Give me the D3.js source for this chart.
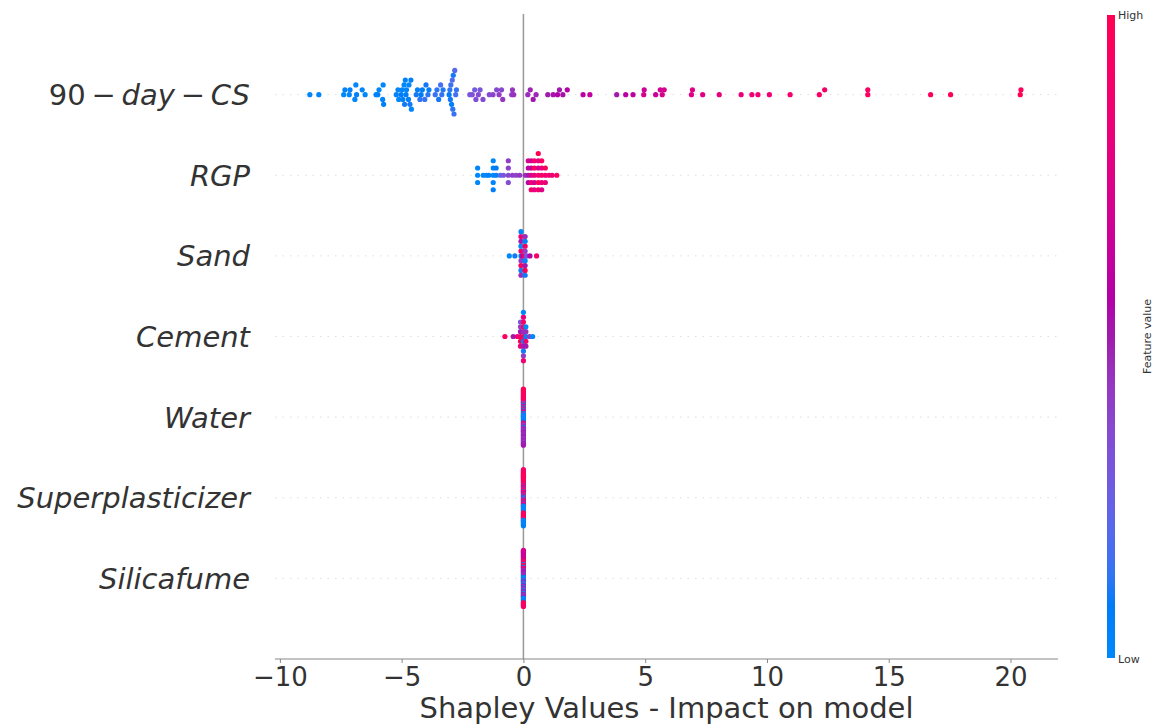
<!DOCTYPE html>
<html>
<head>
<meta charset="utf-8">
<script src="https://cdn.jsdelivr.net/npm/d3@7"></script>
<style>
  body { margin: 0; background: #fff; }
  svg { display: block; font-family: "DejaVu Sans", sans-serif; }
</style>
</head>
<body>
<svg id="shap_summary" width="1167" height="727"></svg>
<script>

// features, most important first (top row)
var features = ["90-day-CS", "RGP", "Sand", "Cement", "Water", "Superplasticizer", "Silicafume"];

// x axis ticks
var xTicks = [-10, -5, 0, 5, 10, 15, 20];

// shapley value of each sample, and its feature value (0 = low, 1 = high)
var cs90_shap = [-8.77, -8.40, -7.38, -7.33, -7.15, -7.12, -6.92, -6.88, -6.85, -6.62, -6.50,
	-6.05, -5.98, -5.93, -5.78, -5.76, -5.74, -5.22, -5.15, -5.12,
	-5.02, -4.98, -4.95, -4.90, -4.88, -4.85, -4.82, -4.80, -4.72, -4.70, -4.66, -4.62, -4.60,
	-4.40, -4.35, -4.25, -4.20, -4.15, -4.05, -4.00, -3.92, -3.88,
	-3.62, -3.55, -3.48, -3.40, -3.35, -3.30,
	-3.05, -3.02, -3.00, -2.98, -2.95, -2.92, -2.90, -2.88, -2.85, -2.82, -2.78, -2.75,
	-2.20, -2.10, -2.00, -1.95, -1.85, -1.78, -1.66, -1.40, -1.25, -1.10, -1.00, -0.90, -0.85,
	-0.48, -0.45, -0.40, 0.18, 0.28, 0.40, 0.52, 1.00, 1.22, 1.40, 1.48, 1.62, 1.80, 2.45, 2.73,
	3.83, 4.20, 4.50, 4.94, 4.96, 5.43, 5.62, 5.70, 5.78,
	6.90, 6.94, 7.36, 8.04, 8.94, 9.38, 9.63, 10.10, 10.95,
	12.15, 12.37, 14.14, 14.14, 16.72, 17.54, 20.40, 20.43];
var cs90_feat = [0.00, 0.02, 0.00, 0.03, 0.00, 0.05, 0.02, 0.00, 0.04, 0.03, 0.00,
	0.02, 0.05, 0.00, 0.03, 0.00, 0.06, 0.04, 0.02, 0.00,
	0.08, 0.03, 0.05, 0.00, 0.10, 0.04, 0.07, 0.02, 0.06, 0.00, 0.10, 0.05, 0.03,
	0.10, 0.05, 0.12, 0.08, 0.06, 0.14, 0.10, 0.12, 0.07,
	0.15, 0.12, 0.10, 0.16, 0.13, 0.11,
	0.08, 0.12, 0.10, 0.15, 0.06, 0.18, 0.12, 0.10, 0.14, 0.20, 0.16, 0.13,
	0.30, 0.32, 0.28, 0.33, 0.35, 0.30, 0.34, 0.35, 0.38, 0.36, 0.40, 0.37, 0.42,
	0.40, 0.42, 0.44, 0.45, 0.48, 0.50, 0.47, 0.50, 0.52, 0.55, 0.50, 0.53, 0.56, 0.60, 0.62,
	0.50, 0.58, 0.60, 0.70, 0.66, 0.65, 0.68, 0.70, 0.72,
	0.74, 0.78, 0.76, 0.80, 0.82, 0.84, 0.85, 0.86, 0.88,
	0.92, 0.90, 0.93, 0.95, 0.96, 0.97, 1.00, 0.98];

var rgp_shap = [-1.88, -1.88, -1.88, -1.65, -1.52, -1.42, -1.24, -1.24, -1.24, -1.24, -1.24,
	-1.12, -1.12, -0.95, -0.82, -0.62, -0.62, -0.62, -0.62, -0.45, -0.30, -0.15,
	0.08, 0.20, 0.20, 0.20, 0.20, 0.32, 0.32, 0.32, 0.32, 0.32, 0.45, 0.45, 0.45, 0.45, 0.45,
	0.61, 0.61, 0.61, 0.61, 0.61, 0.61, 0.75, 0.75, 0.75, 0.75, 0.75, 0.90, 0.90, 0.90,
	1.05, 1.18, 1.37];
var rgp_feat = [0.00, 0.02, 0.00, 0.03, 0.00, 0.05, 0.00, 0.04, 0.02, 0.00, 0.06,
	0.05, 0.08, 0.20, 0.30, 0.35, 0.38, 0.33, 0.40, 0.40, 0.38, 0.42,
	0.45, 0.50, 0.62, 0.55, 0.70, 0.75, 0.60, 0.85, 0.68, 0.90, 0.80, 0.95, 0.70, 0.88, 0.78,
	0.85, 0.72, 0.98, 0.80, 0.90, 1.00, 0.92, 0.80, 0.86, 0.95, 0.75, 0.85, 0.96, 0.80,
	0.90, 0.82, 0.95];

var sand_shap = [-0.58, -0.35, -0.10, -0.10, -0.10, -0.10, -0.10, -0.10, -0.10, -0.10, -0.10, -0.10,
	-0.04, 0.07, 0.07, 0.07, 0.07, 0.07, 0.07, 0.07, 0.07, 0.07, 0.13, 0.27, 0.54];
var sand_feat = [0.00, 0.10, 0.05, 0.90, 0.40, 0.00, 0.95, 0.50, 0.10, 0.85, 0.45, 0.00,
	0.60, 0.95, 0.40, 0.00, 0.90, 0.50, 0.05, 1.00, 0.45, 0.10, 0.30, 0.55, 0.90];

var cement_shap = [-0.76, -0.42, -0.25, -0.12, -0.12, -0.12, -0.12, -0.12, -0.12,
	0.00, 0.00, 0.00, 0.00, 0.00, 0.00, 0.00, 0.00, 0.00, 0.00, 0.00,
	0.10, 0.10, 0.10, 0.10, 0.10, 0.25, 0.38];
var cement_feat = [0.95, 0.50, 0.85, 0.90, 0.50, 1.00, 0.40, 0.85, 0.30,
	0.90, 0.45, 0.05, 0.95, 0.50, 0.90, 0.10, 0.80, 0.40, 0.00, 0.85,
	0.05, 0.45, 0.90, 0.00, 0.50, 0.40, 0.00];

// these three have a shapley value of 0 for every sample
var zero_shap = 0;
var water_feat = [0.05, 0.00, 0.05, 0.05, 0.10, 0.00, 0.00, 0.10, 0.05, 0.00, 0.05, 0.05, 0.50,
	0.40, 0.90, 0.00, 0.45, 0.95, 0.40, 0.50, 0.50, 0.00, 0.10, 0.90, 0.45, 0.45, 0.50,
	0.05, 0.40, 1.00, 0.45, 0.50, 0.50, 0.00, 0.45, 0.90, 0.50, 0.40, 0.40, 0.95, 0.50,
	1.00, 0.45, 0.90, 0.50, 0.95, 0.40, 1.00, 0.45, 0.90, 0.50, 0.95, 0.45, 1.00, 0.40,
	0.90, 0.50, 0.95, 0.45, 1.00, 0.50];
var superplasticizer_feat = [0.45, 0.05, 0.50, 0.45, 0.90, 0.00, 0.45, 0.50, 0.95, 0.10, 0.50,
	0.90, 0.40, 0.45, 0.90, 0.95, 0.50, 0.50, 0.00, 0.90, 0.05, 0.40, 0.00, 1.00, 0.10,
	0.45, 0.00, 0.90, 0.05, 0.50, 0.00, 0.95, 0.90, 0.45, 1.00, 0.90, 0.95, 1.00, 0.90,
	0.95, 1.00, 0.90, 0.95, 1.00, 0.90, 0.95, 1.00, 0.90, 0.05, 1.00, 0.00, 0.95, 0.10,
	0.90, 0.00, 1.00, 0.05, 0.95, 0.00, 0.90, 0.05];
var silicafume_feat = [0.05, 0.00, 0.05, 0.05, 0.45, 0.10, 0.00, 0.00, 0.50, 0.05, 0.10,
	0.45, 0.40, 0.50, 0.05, 0.40, 0.50, 0.50, 0.45, 0.45, 0.00, 0.55, 0.50, 0.40, 0.40,
	0.50, 0.10, 0.95, 0.50, 0.90, 0.45, 0.05, 0.00, 1.00, 0.50, 0.95, 0.40, 0.00, 0.45,
	0.90, 0.50, 1.00, 0.00, 0.95, 0.05, 0.60, 0.00, 0.70, 0.10, 0.65, 0.05, 0.60, 0.95,
	0.70, 0.90, 0.65, 1.00, 0.60, 0.95, 0.70, 0.90];

var rows = [
	{ shap: cs90_shap, feat: cs90_feat },
	{ shap: rgp_shap, feat: rgp_feat },
	{ shap: sand_shap, feat: sand_feat },
	{ shap: cement_shap, feat: cement_feat },
	{ shap: water_feat.map(function() { return zero_shap; }), feat: water_feat },
	{ shap: superplasticizer_feat.map(function() { return zero_shap; }), feat: superplasticizer_feat },
	{ shap: silicafume_feat.map(function() { return zero_shap; }), feat: silicafume_feat }
];


// plot area
var plot = { left: 275, right: 1058, top: 14, bottom: 659 };
var row_height = 0.4;
var nbins = 100;

var svg = d3.select("#shap_summary");

var x = d3.scaleLinear().domain([-10.2, 21.95]).range([plot.left, plot.right]);
// features sit at 0..n-1 counted from the bottom, with one unit of room each side
var y = d3.scaleLinear().domain([-1, features.length]).range([plot.bottom, plot.top]);

function rowPos(i) { return features.length - 1 - i; }

// red-blue map: lch blend, lightness dips in the middle
function shapColor(t) {
	var l = t < 0.5 ? 54 - 28 * t : 40 + 28 * (t - 0.5);
	var c = 70 + 20 * t;
	var h = 266.93 + t * (380.32 - 266.93);
	return d3.hcl(h, c, l).formatHex();
}

// beeswarm offsets: bin the values, stack points that share a bin
function swarm(shaps) {
	var n = shaps.length;
	var lo = d3.min(shaps), hi = d3.max(shaps);
	var quant = shaps.map(function(v) { return Math.round(nbins * (v - lo) / (hi - lo + 1e-8)); });
	var inds = d3.range(n).sort(function(a, b) { return quant[a] - quant[b] || a - b; });
	var ys = new Array(n).fill(0);
	var layer = 0, last_bin = -1;
	inds.forEach(function(i) {
		if (quant[i] !== last_bin) layer = 0;
		ys[i] = Math.ceil(layer / 2) * ((layer % 2) * 2 - 1);
		layer += 1;
		last_bin = quant[i];
	});
	var top = d3.max(ys) + 1;
	return ys.map(function(d) { return d * 0.9 * row_height / top; });
}


// dotted row guides
svg.append("g")
	.selectAll("line")
	.data(features)
	.enter().append("line")
	.attr("x1", plot.left)
	.attr("x2", plot.right)
	.attr("y1", function(d, i) { return y(rowPos(i)); })
	.attr("y2", function(d, i) { return y(rowPos(i)); })
	.attr("stroke", "#d6d6d6")
	.attr("stroke-width", 0.8)
	.attr("stroke-dasharray", "1.5,6");

// zero line
svg.append("line")
	.attr("x1", x(0)).attr("x2", x(0))
	.attr("y1", plot.top).attr("y2", plot.bottom)
	.attr("stroke", "#999999")
	.attr("stroke-width", 1.5);

// points
rows.forEach(function(r, i) {
	var offs = swarm(r.shap);
	var pts = r.shap.map(function(v, j) { return { v: v, f: r.feat[j], o: offs[j] }; });
	svg.append("g")
		.attr("class", "row")
		.selectAll("circle")
		.data(pts)
		.enter().append("circle")
		.attr("cx", function(d) { return x(d.v); })
		.attr("cy", function(d) { return y(rowPos(i) + d.o); })
		.attr("r", 2.6)
		.attr("fill", function(d) { return shapColor(d.f); });
});

// feature names, numbers upright and words italic like matplotlib mathtext
var names = svg.append("g")
	.selectAll("text")
	.data(features)
	.enter().append("text")
	.attr("x", 250)
	.attr("y", function(d, i) { return y(rowPos(i)) + 10.5; })
	.attr("text-anchor", "end")
	.attr("font-size", 29)
	.attr("fill", "#333333");

names.each(function(d) {
	var t = d3.select(this);
	var parts = d.split("-");
	parts.forEach(function(p, k) {
		if (k > 0) t.append("tspan").text("\u2009\u2212\u2009");
		t.append("tspan")
			.attr("font-style", /^[0-9]+$/.test(p) ? "normal" : "italic")
			.text(p);
	});
});

// x axis
var xAxis = d3.axisBottom(x)
	.tickValues(xTicks)
	.tickSize(4)
	.tickPadding(6)
	.tickFormat(function(d) { return d < 0 ? "\u2212" + Math.abs(d) : d; });

var gx = svg.append("g")
	.attr("class", "axis axis--x")
	.attr("transform", "translate(0," + plot.bottom + ")")
	.call(xAxis);

gx.select(".domain")
	.attr("d", "M" + plot.left + ",0H" + plot.right)
	.attr("stroke", "#888888")
	.attr("stroke-width", 1.2);
gx.selectAll(".tick line").attr("stroke", "#888888").attr("stroke-width", 1);
gx.selectAll(".tick text")
	.attr("font-family", "DejaVu Sans")
	.attr("font-size", 26)
	.attr("fill", "#333333")
	.attr("dy", null)
	.attr("y", 27);

svg.append("text")
	.attr("x", (plot.left + plot.right) / 2)
	.attr("y", 718)
	.attr("text-anchor", "middle")
	.attr("font-size", 29)
	.attr("fill", "#333333")
	.text("Shapley Values - Impact on model");


// colour bar
var bar = { x: 1107, w: 8, top: 15, bottom: 658 };

var grad = svg.append("defs").append("linearGradient")
	.attr("id", "shap_grad")
	.attr("x1", 0).attr("x2", 0)
	.attr("y1", 1).attr("y2", 0);

grad.selectAll("stop")
	.data(d3.range(0, 1.0001, 0.02))
	.enter().append("stop")
	.attr("offset", function(d) { return d; })
	.attr("stop-color", function(d) { return shapColor(d); });

svg.append("rect")
	.attr("x", bar.x)
	.attr("y", bar.top)
	.attr("width", bar.w)
	.attr("height", bar.bottom - bar.top)
	.attr("fill", "url(#shap_grad)");

svg.append("text")
	.attr("x", bar.x + bar.w + 3)
	.attr("y", bar.top + 4)
	.attr("font-size", 11)
	.attr("fill", "#333333")
	.text("High");

svg.append("text")
	.attr("x", bar.x + bar.w + 3)
	.attr("y", bar.bottom + 5)
	.attr("font-size", 11)
	.attr("fill", "#333333")
	.text("Low");

svg.append("text")
	.attr("transform", "translate(1151," + ((bar.top + bar.bottom) / 2) + ") rotate(-90)")
	.attr("text-anchor", "middle")
	.attr("font-size", 11)
	.attr("fill", "#333333")
	.text("Feature value");

</script>
</body>
</html>
